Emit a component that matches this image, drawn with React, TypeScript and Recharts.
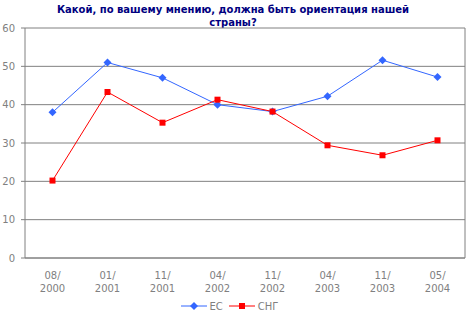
import { LineChart, Line, XAxis, YAxis, CartesianGrid, Legend, ReferenceLine } from 'recharts'

const categories = ['08/2000', '01/2001', '11/2001', '04/2002', '11/2002', '04/2003', '11/2003', '05/2004']
const ecValues = [38, 51, 47, 40, 38.2, 42.2, 51.6, 47.2]
const sngValues = [20.2, 43.3, 35.3, 41.3, 38.2, 29.4, 26.8, 30.7]
const yTicks = [0, 10, 20, 30, 40, 50, 60]

const GRAY = '#808080'
const BLUE = '#3366ff'
const RED = '#ff0000'
const FONT = '"DejaVu Sans", Verdana, sans-serif'

const data = categories.map((label, i) => ({ pos: i + 0.5, label, ec: ecValues[i], sng: sngValues[i] }))
const bounds = categories.map((_, i) => i).concat(categories.length)
const centers = data.map((d) => d.pos)

function CatTick({ x, y, payload }: any) {
  const label = categories[Math.floor(payload.value)] || ''
  const [a, b] = label.split('/')
  return (
    <text x={x} y={y} textAnchor="middle" fill={GRAY} fontSize={10} fontFamily={FONT}>
      <tspan x={x} dy={12}>{a}/</tspan>
      <tspan x={x} dy={13}>{b}</tspan>
    </text>
  )
}

function Diamond({ cx, cy }: any) {
  const r = 4
  return <path d={`M${cx},${cy - r}L${cx + r},${cy}L${cx},${cy + r}L${cx - r},${cy}Z`} fill={BLUE} />
}

function Square({ cx, cy }: any) {
  return <rect x={cx - 3} y={cy - 3} width={6} height={6} fill={RED} />
}

function LegendBox() {
  const item = (color: string, name: string, square: boolean) => (
    <span style={{ display: 'inline-flex', alignItems: 'center', marginRight: 6 }}>
      <svg width={26} height={10} style={{ marginRight: 3 }}>
        <line x1={0} y1={5} x2={26} y2={5} stroke={color} strokeWidth={1} />
        {square
          ? <rect x={10} y={2} width={6} height={6} fill={color} />
          : <path d="M13,1L17,5L13,9L9,5Z" fill={color} />}
      </svg>
      <span>{name}</span>
    </span>
  )
  return (
    <div style={{ display: 'flex', justifyContent: 'center', height: 18, fontFamily: FONT, fontSize: 10, color: GRAY }}>
      {item(BLUE, 'ЕС', false)}
      {item(RED, 'СНГ', true)}
    </div>
  )
}

export default function App() {
  return (
    <div style={{ position: 'absolute', left: 0, top: 0, width: 470, height: 315, background: '#fff' }}>
      <div
        style={{
          position: 'absolute', left: 0, top: 3, width: 466, textAlign: 'center',
          fontFamily: FONT, fontWeight: 'bold', fontSize: 10, lineHeight: '13px', color: '#000080',
        }}
      >
        Какой, по вашему мнению, должна быть ориентация нашей<br />страны?
      </div>
      <LineChart width={470} height={315} data={data} margin={{ top: 28, right: 5, bottom: 0, left: 0 }}>
        <CartesianGrid vertical={false} stroke={GRAY} />
        <XAxis
          type="number" dataKey="pos" domain={[0, 8]} ticks={bounds} tick={false}
          axisLine={{ stroke: GRAY }} tickLine={{ stroke: GRAY }} tickSize={4} height={1}
        />
        <XAxis
          xAxisId="lab" type="number" dataKey="pos" domain={[0, 8]} ticks={centers}
          axisLine={false} tickLine={false} tick={<CatTick />} height={38} interval={0}
        />
        <YAxis
          domain={[0, 60]} ticks={yTicks} width={25} tickSize={4} tickMargin={6}
          axisLine={{ stroke: GRAY }} tickLine={{ stroke: GRAY }}
          tick={{ fill: GRAY, fontSize: 10, fontFamily: FONT }}
        />
        <ReferenceLine x={8} stroke={GRAY} />
        <Legend verticalAlign="bottom" content={<LegendBox />} />
        <Line dataKey="ec" stroke={BLUE} strokeWidth={1} dot={<Diamond />} isAnimationActive={false} />
        <Line dataKey="sng" stroke={RED} strokeWidth={1} dot={<Square />} isAnimationActive={false} />
      </LineChart>
    </div>
  )
}
